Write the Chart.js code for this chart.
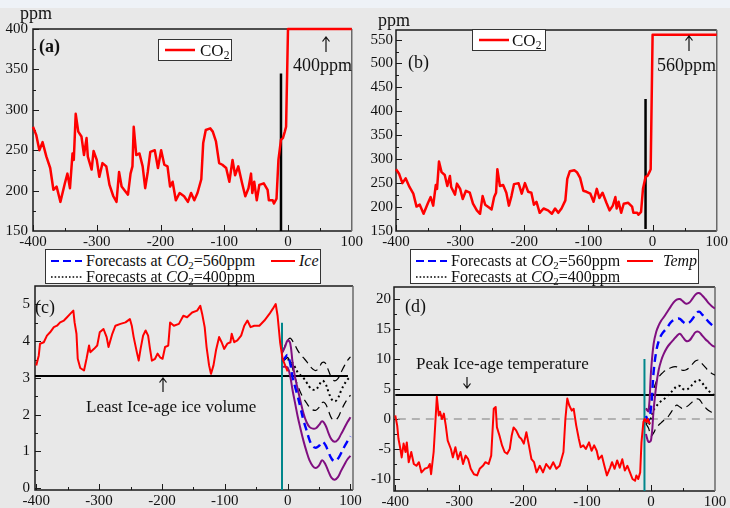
<!DOCTYPE html>
<html>
<head>
<meta charset="utf-8">
<script src="https://cdn.jsdelivr.net/npm/chart.js@4.4.0/dist/chart.umd.min.js"></script>
<style>
  html, body { margin: 0; padding: 0; }
  body { width: 730px; height: 508px; background: #e8e8e8; position: relative; overflow: hidden;
         font-family: "Liberation Serif", "Times New Roman", serif; color: #111; }
  .band { position: absolute; left: 0; top: 0; width: 730px; height: 8px; background: #eef2f7; }
  canvas { position: absolute; }
  .t { position: absolute; white-space: nowrap; line-height: 1; }
  .arrow { position: absolute; overflow: visible; }
  .legend { position: absolute; background: #fff; border: 1px solid #333; box-sizing: border-box; }
  .legend svg { position: absolute; }
  sub { font-size: 0.68em; vertical-align: -0.3em; line-height: 0; }
</style>
</head>
<body>
<div class="band"></div>
<canvas id="pa" width="365" height="250" style="left:0;top:0"></canvas>
<canvas id="pb" width="365" height="250" style="left:365px;top:0"></canvas>
<canvas id="pc" width="365" height="244" style="left:0;top:264px"></canvas>
<canvas id="pd" width="365" height="244" style="left:365px;top:264px"></canvas>

<!-- axis units and panel tags -->
<div class="t" style="left:20px;top:4px;font-size:18px">ppm</div>
<div class="t" style="left:378px;top:11px;font-size:18px">ppm</div>
<div class="t" style="left:39px;top:37px;font-size:18px;font-weight:bold">(a)</div>
<div class="t" style="left:408px;top:53px;font-size:18px">(b)</div>
<div class="t" style="left:35px;top:298px;font-size:18px">(c)</div>
<div class="t" style="left:405px;top:297px;font-size:18px">(d)</div>

<!-- annotations -->
<svg class="arrow" style="left:321px;top:36px" width="10" height="17"><path d="M5 1 V16 M1.5 5.5 L5 1 L8.5 5.5" fill="none" stroke="#111" stroke-width="1.2"/></svg>
<div class="t" style="left:293px;top:56px;font-size:18px">400ppm</div>
<svg class="arrow" style="left:684px;top:35px" width="10" height="17"><path d="M5 1 V16 M1.5 5.5 L5 1 L8.5 5.5" fill="none" stroke="#111" stroke-width="1.2"/></svg>
<div class="t" style="left:657px;top:56px;font-size:18px">560ppm</div>
<svg class="arrow" style="left:158px;top:377px" width="10" height="16"><path d="M5 1 V15 M1.5 5.5 L5 1 L8.5 5.5" fill="none" stroke="#111" stroke-width="1.2"/></svg>
<div class="t" style="left:86px;top:398px;font-size:17px">Least Ice-age ice volume</div>
<div class="t" style="left:416px;top:355px;font-size:17px">Peak Ice-age temperature</div>
<svg class="arrow" style="left:462px;top:376px" width="10" height="13"><path d="M5 1 V12 M1.5 7.5 L5 12 L8.5 7.5" fill="none" stroke="#111" stroke-width="1.2"/></svg>

<!-- legends -->
<div class="legend" style="left:158px;top:39px;width:74px;height:22px">
  <svg style="left:6px;top:8px" width="30" height="4"><line x1="0" y1="2" x2="30" y2="2" stroke="#ff0000" stroke-width="2.5"/></svg>
  <span class="t" style="left:41px;top:2px;font-size:17px">CO<sub>2</sub></span>
</div>
<div class="legend" style="left:472px;top:29px;width:74px;height:22px">
  <svg style="left:6px;top:8px" width="30" height="4"><line x1="0" y1="2" x2="30" y2="2" stroke="#ff0000" stroke-width="2.5"/></svg>
  <span class="t" style="left:39px;top:2px;font-size:17px">CO<sub>2</sub></span>
</div>
<div class="legend" style="left:45px;top:249px;width:276px;height:35px">
  <svg style="left:5px;top:9px" width="31" height="4"><line x1="0" y1="2" x2="31" y2="2" stroke="#0000ff" stroke-width="2.2" stroke-dasharray="8,4"/></svg>
  <span class="t" style="left:40px;top:3px;font-size:16px">Forecasts at <i>CO</i><sub>2</sub>=560ppm</span>
  <svg style="left:225px;top:9px" width="24" height="4"><line x1="0" y1="2" x2="24" y2="2" stroke="#ff0000" stroke-width="2"/></svg>
  <span class="t" style="left:253px;top:3px;font-size:16px"><i>Ice</i></span>
  <svg style="left:5px;top:25px" width="31" height="4"><line x1="0" y1="2" x2="31" y2="2" stroke="#000" stroke-width="1.6" stroke-dasharray="1.6,2"/></svg>
  <span class="t" style="left:40px;top:19px;font-size:16px">Forecasts at <i>CO</i><sub>2</sub>=400ppm</span>
</div>
<div class="legend" style="left:410px;top:249px;width:289px;height:35px">
  <svg style="left:5px;top:9px" width="31" height="4"><line x1="0" y1="2" x2="31" y2="2" stroke="#0000ff" stroke-width="2.2" stroke-dasharray="8,4"/></svg>
  <span class="t" style="left:40px;top:3px;font-size:16px">Forecasts at <i>CO</i><sub>2</sub>=560ppm</span>
  <svg style="left:216px;top:9px" width="26" height="4"><line x1="0" y1="2" x2="26" y2="2" stroke="#ff0000" stroke-width="2"/></svg>
  <span class="t" style="left:252px;top:3px;font-size:16px"><i>Temp</i></span>
  <svg style="left:5px;top:25px" width="31" height="4"><line x1="0" y1="2" x2="31" y2="2" stroke="#000" stroke-width="1.6" stroke-dasharray="1.6,2"/></svg>
  <span class="t" style="left:40px;top:19px;font-size:16px">Forecasts at <i>CO</i><sub>2</sub>=400ppm</span>
</div>

<script>
// ---- Ice-core CO2 record (kyr relative to present, ppm) ----
const co2Years = [
  -400,-395,-390,-385,-379,-373,-368,-363,-357,-350,
  -346,-342,-338,-336,-333,-329,-324,-320,-316,-314,
  -308,-305,-300,-296,-291,-285,-280,-274,-269,-265,
  -261,-255,-251,-247,-244,-242,-238,-233,-228,-224,
  -220,-216,-209,-204,-199,-194,-189,-185,-181,-176,
  -170,-163,-157,-152,-147,-142,-136,-133,-129,-122,
  -118,-113,-108,-103,-97,-92,-87,-83,-78,-72,
  -67,-62,-58,-56,-53,-49,-45,-38,-32,-30,
  -24,-22,-18,-15,-11,-8,-5,-3];
const co2Ppm = [
  279,269,250,260,242,228,201,205,186,209,
  221,203,246,238,295,273,267,244,265,242,
  226,249,238,217,234,230,207,193,186,223,
  205,199,195,221,230,279,244,246,230,203,
  223,248,250,228,250,232,230,205,211,188,
  197,193,186,197,188,197,214,259,275,277,
  273,261,234,232,228,211,238,219,230,209,
  193,203,221,197,211,188,207,209,201,188,
  188,184,190,238,263,265,273,279];
// scenario levels held from year 0 to +100 kyr
const scenarioYears = [0, 100];
const co2LevelA = 400;
const co2LevelB = 560;
// marker line for the present interglacial
const markerYear = -11;
const markerRangeA = [150, 345];
const markerRangeB = [154, 426];

// ---- Ice volume record ----
const iceYears = [
  -400,-396,-394,-388,-383,-378,-372,-367,-362,-356,
  -351,-346,-341,-339,-336,-334,-330,-324,-320,-316,
  -314,-308,-303,-299,-293,-288,-285,-279,-274,-266,
  -258,-251,-248,-245,-240,-237,-234,-230,-226,-222,
  -219,-216,-211,-207,-203,-199,-195,-190,-187,-181,
  -173,-166,-160,-152,-144,-139,-136,-132,-129,-125,
  -122,-118,-114,-109,-105,-101,-96,-91,-89,-85,
  -80,-74,-69,-64,-59,-53,-45,-37,-29,-24,
  -19,-16,-12,-8,-4,0];
const iceVolume = [
  3.34,3.61,3.93,3.97,4.15,4.24,4.38,4.42,4.51,4.56,
  4.65,4.74,4.83,4.51,4.20,3.52,3.27,3.20,3.52,3.88,
  3.70,3.79,3.88,4.24,4.33,4.11,3.84,4.20,4.42,4.47,
  4.51,4.60,4.42,4.11,3.70,3.47,3.79,4.15,4.29,4.15,
  3.79,3.47,3.52,3.66,3.56,3.52,3.84,3.88,4.51,4.42,
  4.47,4.69,4.65,4.78,4.83,4.96,4.74,4.38,3.84,3.34,
  3.11,3.34,3.75,4.11,3.97,3.79,3.93,3.97,4.20,3.97,
  4.02,4.15,4.42,4.56,4.38,4.42,4.42,4.56,4.74,4.87,
  5.01,4.69,3.97,3.52,3.34,3.18];
const leastIceVolume = 3.05;

// ---- Temperature record ----
const tempYears = [
  -400,-397,-395,-392,-390,-387,-384,-382,-379,-375,
  -371,-367,-363,-359,-354,-349,-346,-344,-340,-337,
  -335,-332,-330,-327,-324,-321,-318,-313,-310,-306,
  -302,-298,-294,-290,-286,-282,-277,-272,-268,-263,
  -259,-254,-250,-246,-243,-241,-237,-233,-229,-225,
  -221,-218,-215,-211,-206,-203,-199,-195,-191,-187,
  -183,-179,-174,-169,-164,-158,-153,-148,-143,-137,
  -134,-131,-128,-124,-121,-117,-113,-110,-106,-102,
  -97,-93,-89,-85,-82,-77,-73,-69,-64,-61,
  -57,-53,-49,-45,-41,-37,-33,-29,-25,-23,
  -20,-17,-15,-12,-10,-7,-5,-2];
const tempAnomaly = [
  0.6,-1.1,-3.3,-5.0,-6.4,-4.1,-5.5,-3.9,-7.2,-5.5,
  -7.5,-7.8,-7.2,-8.9,-8.3,-8.1,-7.5,-9.2,-5.5,0.0,
  3.7,0.6,1.2,0.0,0.9,-1.1,-3.6,-5.0,-6.4,-4.7,
  -6.7,-5.5,-7.5,-6.1,-6.7,-8.3,-9.2,-9.4,-8.3,-7.8,
  -7.2,-7.5,-6.1,1.7,2.0,-1.4,-2.8,-4.4,-5.5,-5.8,
  -5.0,-2.8,-1.4,-1.9,-3.0,-3.3,-4.1,-2.2,-4.4,-6.7,
  -7.2,-8.9,-7.8,-8.9,-7.5,-8.3,-7.2,-8.3,-7.8,-5.5,
  0.0,3.4,2.3,1.4,1.7,-1.1,-3.3,-4.7,-4.4,-5.0,
  -3.9,-5.3,-4.4,-5.3,-6.7,-6.1,-7.8,-9.4,-8.1,-7.2,
  -8.3,-6.9,-8.1,-6.7,-8.6,-7.8,-8.9,-10.0,-10.3,-9.4,
  -10.0,-8.9,-3.9,-0.5,0.0,-0.5,0.0,-0.8];
const peakIceAgeTemp = 4;

// ---- Forecasts (shared year grid) ----
const fcYears = [-8,-4,0,4,8,12,16,20,25,30,35,40,45,50,55,60,65,70,75,80,85,90,95,100];
const ice560Hi  = [3.70,3.85,4.02,3.95,3.40,3.00,2.70,2.40,2.05,1.80,1.66,1.62,1.63,1.72,1.82,1.72,1.50,1.32,1.26,1.32,1.47,1.63,1.79,1.93];
const ice560Mid = [3.45,3.55,3.62,3.40,3.00,2.75,2.50,2.22,1.86,1.58,1.30,1.14,1.10,1.15,1.26,1.18,0.98,0.80,0.73,0.80,0.95,1.12,1.27,1.41];
const ice560Lo  = [3.30,3.30,3.28,3.05,2.65,2.30,1.95,1.65,1.30,1.00,0.75,0.60,0.55,0.62,0.76,0.65,0.45,0.28,0.23,0.30,0.47,0.63,0.78,0.88];
const ice400Hi  = [3.70,3.88,4.02,4.08,4.00,3.88,3.75,3.65,3.55,3.45,3.33,3.24,3.20,3.28,3.42,3.40,3.20,3.00,2.92,2.98,3.15,3.32,3.47,3.57];
const ice400Mid = [3.52,3.50,3.50,3.48,3.40,3.28,3.15,3.08,3.00,2.88,2.75,2.68,2.68,2.80,2.92,2.85,2.62,2.42,2.36,2.45,2.65,2.82,2.95,3.03];
const ice400Lo  = [3.45,3.50,3.55,3.45,3.25,3.00,2.80,2.62,2.45,2.32,2.20,2.13,2.12,2.20,2.33,2.30,2.10,1.90,1.85,1.92,2.10,2.28,2.42,2.53];

const temp560Hi  = [1.7,1.3,8.0,12.5,14.5,15.6,16.4,17.0,17.8,18.6,19.4,19.9,20.0,19.6,19.2,19.4,20.1,20.8,21.0,20.6,20.0,19.3,18.8,18.4];
const temp560Mid = [0.5,-0.3,2.0,7.8,11.2,13.0,14.0,14.6,15.2,16.0,16.5,16.7,16.7,16.2,15.9,16.1,16.7,17.5,17.9,17.4,16.8,16.2,15.7,15.3];
const temp560Lo  = [-2.5,-3.8,-3.5,1.5,5.5,8.2,9.8,10.9,11.9,12.6,13.2,13.8,14.2,13.6,13.0,13.1,13.8,14.5,14.5,13.9,13.3,12.8,12.3,12.0];
const temp400Hi  = [1.8,1.5,2.5,4.8,6.2,7.0,7.5,7.9,8.3,8.5,8.7,8.7,8.4,8.1,8.2,8.6,9.2,9.7,9.8,9.2,8.6,8.0,7.6,7.3];
const temp400Mid = [-0.5,-1.0,0.2,1.5,2.1,2.6,3.0,3.3,3.8,4.3,4.9,5.4,5.5,5.0,4.9,5.2,5.8,6.3,6.5,6.0,5.3,4.7,4.2,3.9];
const temp400Lo  = [-0.8,-1.5,-2.8,-2.3,-1.5,-1.0,-0.6,-0.2,0.2,0.9,1.7,2.3,2.0,1.7,2.0,2.4,2.9,3.3,3.3,2.6,1.9,1.4,1.1,0.9];

// present-day marker lines in (c) and (d)
const iceMarker = { year: -9, top: 4.5 };
const tempMarker = { year: -10.3, top: 10 };

// ---- tick values ----
const yearTicks = [-400, -300, -200, -100, 0, 100];
const co2TicksA = [150, 200, 250, 300, 350, 400];
const co2TicksB = [150, 200, 250, 300, 350, 400, 450, 500, 550];
const iceTicks = [0, 1, 2, 3, 4, 5];
const tempTicks = [-10, -5, 0, 5, 10, 15, 20];

// ---------------------------------------------------------------
const zip = (xs, ys) => xs.map((x, i) => ({ x, y: ys[i] }));
const RED = '#ff0000', PURPLE = '#800f80', BLUE = '#0000ff', TEAL = '#00868b';

Chart.defaults.font.family = '"Liberation Serif", "Times New Roman", serif';
Chart.defaults.color = '#111';

function midpoints(v) {
  const out = [];
  for (let i = 0; i < v.length - 1; i++) out.push((v[i] + v[i + 1]) / 2);
  return out;
}

// box around the plot area with inward major/minor ticks
const frameTicks = {
  id: 'frameTicks',
  beforeDatasetsDraw(chart, args, opts) {
    const { ctx, chartArea: a, scales: { x, y } } = chart;
    ctx.save();
    ctx.strokeStyle = '#1a1a1a';
    ctx.lineWidth = 1;
    const xt = opts.xTicks, yt = opts.yTicks;
    const tick = (vals, len, isX) => {
      vals.forEach(v => {
        ctx.beginPath();
        if (isX) {
          const px = Math.round(x.getPixelForValue(v)) + 0.5;
          if (px < a.left || px > a.right) return;
          ctx.moveTo(px, a.bottom); ctx.lineTo(px, a.bottom - len);
        } else {
          const py = Math.round(y.getPixelForValue(v)) + 0.5;
          if (py < a.top || py > a.bottom) return;
          ctx.moveTo(a.left, py); ctx.lineTo(a.left + len, py);
        }
        ctx.stroke();
      });
    };
    tick(xt, 6, true); tick(midpoints(xt), 3, true);
    tick(yt, 6, false); tick(midpoints(yt), 3, false);
    ctx.lineWidth = 1.5;
    ctx.beginPath();
    ctx.moveTo(a.right, a.top); ctx.lineTo(a.left, a.top); ctx.lineTo(a.left, a.bottom); ctx.lineTo(a.right, a.bottom);
    ctx.stroke();
    ctx.strokeStyle = '#6a6a6a';
    ctx.beginPath(); ctx.moveTo(a.right, a.top); ctx.lineTo(a.right, a.bottom); ctx.stroke();
    ctx.restore();
  }
};

function panel(id, p) {
  return new Chart(document.getElementById(id), {
    type: 'line',
    data: { datasets: p.datasets },
    options: {
      responsive: false, animation: false, devicePixelRatio: 1,
      layout: { padding: { left: 0, top: p.top, right: p.right, bottom: 0 } },
      elements: { point: { radius: 0 }, line: { fill: false, borderCapStyle: 'butt', borderJoinStyle: 'round' } },
      plugins: { legend: { display: false }, tooltip: { enabled: false },
                 frameTicks: { xTicks: yearTicks, yTicks: p.yTicks } },
      scales: {
        x: { type: 'linear', min: p.xMin, max: p.xMax,
             grid: { display: false, drawTicks: false }, border: { display: false },
             ticks: { font: { size: 15 }, color: '#111', padding: 2, maxRotation: 0, autoSkip: false },
             afterBuildTicks: s => { s.ticks = yearTicks.map(v => ({ value: v })); },
             afterFit: s => { s.height = p.xh; } },
        y: { type: 'linear', min: p.yMin, max: p.yMax,
             grid: { display: false, drawTicks: false }, border: { display: false },
             ticks: { font: { size: 15 }, color: '#111', padding: p.ypad, autoSkip: false },
             afterBuildTicks: s => { s.ticks = p.yTicks.map(v => ({ value: v })); },
             afterFit: s => { s.width = p.yw; } }
      }
    },
    plugins: [frameTicks]
  });
}

const line = (data, color, width, extra) => Object.assign({ data, borderColor: color, borderWidth: width, tension: 0, pointRadius: 0 }, extra || {});

function co2Series(level) {
  return zip(co2Years, co2Ppm).concat(scenarioYears.map(x => ({ x, y: level })));
}

// (a) CO2 with a 400 ppm scenario
panel('pa', {
  top: 29, right: 12, yw: 33, xh: 19, ypad: 5,
  xMin: -400, xMax: 100, yMin: 150, yMax: 400, yTicks: co2TicksA,
  datasets: [
    line(co2Series(co2LevelA), RED, 2.5, { clip: false }),
    line(markerRangeA.map(y => ({ x: markerYear, y })), '#000', 2.5)
  ]
});

// (b) CO2 with a 560 ppm scenario
panel('pb', {
  top: 30, right: 13, yw: 31, xh: 19, ypad: 3,
  xMin: -400, xMax: 100, yMin: 150, yMax: 570, yTicks: co2TicksB,
  datasets: [
    line(co2Series(co2LevelB), RED, 2.5, { clip: false }),
    line(markerRangeB.map(y => ({ x: markerYear, y })), '#000', 2.5)
  ]
});

// (c) ice volume with forecasts
panel('pc', {
  top: 22, right: 12, yw: 35, xh: 18, ypad: 5,
  xMin: -402, xMax: 104, yMin: -0.05, yMax: 5.5, yTicks: iceTicks,
  datasets: [
    line(zip(iceYears, iceVolume), RED, 2),
    line(zip(fcYears, ice560Mid), BLUE, 2.4, { borderDash: [8, 5], tension: 0.4 }),
    line(zip(fcYears, ice560Hi), PURPLE, 2, { tension: 0.4 }),
    line(zip(fcYears, ice560Lo), PURPLE, 2, { tension: 0.4 }),
    line(zip(fcYears, ice400Mid), '#000', 2, { borderDash: [2, 3], tension: 0.4 }),
    line(zip(fcYears, ice400Hi), '#000', 1.2, { borderDash: [8, 5], tension: 0.4 }),
    line(zip(fcYears, ice400Lo), '#000', 1.2, { borderDash: [8, 5], tension: 0.4 }),
    line([{ x: iceMarker.year, y: -0.05 }, { x: iceMarker.year, y: iceMarker.top }], TEAL, 2),
    line([{ x: -402, y: leastIceVolume }, { x: 96, y: leastIceVolume }], '#000', 2)
  ]
});

// (d) temperature with forecasts
panel('pd', {
  top: 23, right: 15, yw: 29, xh: 17, ypad: 3,
  xMin: -402, xMax: 100, yMin: -12, yMax: 22, yTicks: tempTicks,
  datasets: [
    line(zip(tempYears, tempAnomaly), RED, 2),
    line(zip(fcYears, temp560Mid), BLUE, 2.4, { borderDash: [8, 5], tension: 0.4 }),
    line(zip(fcYears, temp560Hi), PURPLE, 2, { tension: 0.4 }),
    line(zip(fcYears, temp560Lo), PURPLE, 2, { tension: 0.4 }),
    line(zip(fcYears, temp400Mid), '#000', 2, { borderDash: [2, 3], tension: 0.4 }),
    line(zip(fcYears, temp400Hi), '#000', 1.2, { borderDash: [8, 5], tension: 0.4 }),
    line(zip(fcYears, temp400Lo), '#000', 1.2, { borderDash: [8, 5], tension: 0.4 }),
    line([{ x: tempMarker.year, y: -12 }, { x: tempMarker.year, y: tempMarker.top }], TEAL, 2),
    line([{ x: -400, y: peakIceAgeTemp }, { x: 99, y: peakIceAgeTemp }], '#000', 2),
    line([{ x: -396, y: 0 }, { x: 99, y: 0 }], '#a0a0a0', 1.5, { borderDash: [8, 6] })
  ]
});
</script>
</body>
</html>
